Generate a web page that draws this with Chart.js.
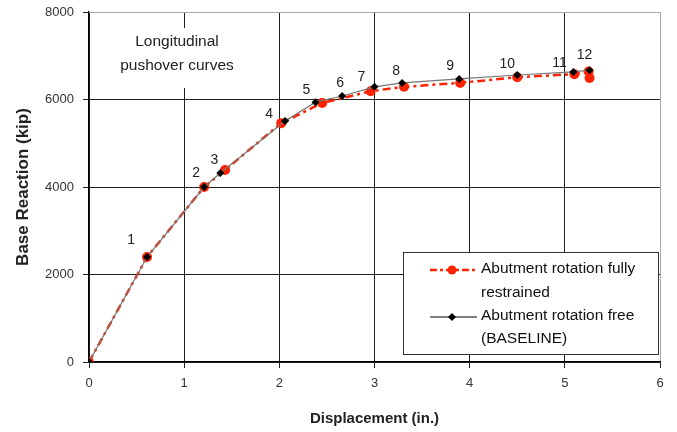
<!DOCTYPE html>
<html><head><meta charset="utf-8">
<script src="https://cdn.jsdelivr.net/npm/chart.js@4"></script>
<style>html,body{margin:0;padding:0;background:#fff}#wrap{width:677px;height:432px;position:relative}</style>
</head><body><div id="wrap"><canvas id="c" width="677" height="432"></canvas></div>
<script>
const baselineX = [0, 0.61, 1.21, 1.38, 2.06, 2.38, 2.66, 3.00, 3.29, 3.89, 4.50, 5.09, 5.26];
const baselineY = [0, 2400, 4000, 4320, 5510, 5940, 6080, 6290, 6380, 6470, 6560, 6630, 6670];
const restrainedX = [0, 0.61, 1.21, 1.43, 2.02, 2.45, 2.96, 3.31, 3.90, 4.50, 5.10, 5.25, 5.26];
const restrainedY = [0, 2400, 4000, 4390, 5460, 5920, 6190, 6290, 6380, 6510, 6580, 6640, 6490];
const pointLabels = ['', '1', '2', '3', '4', '5', '6', '7', '8', '9', '10', '11', '12'];
const xTicks = [0, 1, 2, 3, 4, 5, 6];
const yTicks = [0, 2000, 4000, 6000, 8000];
const legendLabels = [['Abutment rotation fully', 'restrained'], ['Abutment rotation free', '(BASELINE)']];
const noteLines = ['Longitudinal', 'pushover curves'];

const TFONT = "'Liberation Sans',Arial,sans-serif";
const RED = '#ff2200';
const labelOffsets = [[0,0],[-16,-17],[-8,-14],[-6,-13],[-16,-7],[-9,-12],[-2,-13],[-13,-10],[-6,-12],[-9,-13],[-10,-11],[-14,-9],[-5,-15]];

const overlay = {
  id: 'overlay',
  afterDatasetsDraw(chart) {
    const ctx = chart.ctx, xs = chart.scales.x, ys = chart.scales.y;
    ctx.save();
    // note box
    ctx.fillStyle = '#fff';
    ctx.fillRect(118, 28, 120, 60);
    ctx.fillStyle = '#222';
    ctx.font = '15.5px ' + TFONT;
    ctx.textAlign = 'center'; ctx.textBaseline = 'middle';
    ctx.fillText(noteLines[0], 177, 42);
    ctx.fillText(noteLines[1], 177, 66);
    // point labels
    ctx.font = '14px ' + TFONT;
    ctx.fillStyle = '#222';
    pointLabels.forEach((t, i) => {
      if (!t) return;
      const px = xs.getPixelForValue(baselineX[i]) + labelOffsets[i][0];
      const py = ys.getPixelForValue(baselineY[i]) + labelOffsets[i][1];
      ctx.fillText(t, px, py);
    });
    // legend
    const L = 403, T = 252, R = 658, B = 354;
    ctx.fillStyle = '#fff';
    ctx.fillRect(L, T, R - L, B - T);
    ctx.strokeStyle = '#333'; ctx.lineWidth = 1;
    ctx.strokeRect(L + 0.5, T + 0.5, R - L, B - T);
    // red sample
    ctx.strokeStyle = RED; ctx.lineWidth = 2.5; ctx.setLineDash([7, 3, 3, 3]);
    ctx.beginPath(); ctx.moveTo(430, 270); ctx.lineTo(477, 270); ctx.stroke();
    ctx.setLineDash([]);
    ctx.fillStyle = RED; ctx.beginPath(); ctx.arc(452, 270, 4.5, 0, Math.PI * 2); ctx.fill();
    // black sample
    ctx.strokeStyle = '#000'; ctx.lineWidth = 1;
    ctx.beginPath(); ctx.moveTo(430, 317); ctx.lineTo(477, 317); ctx.stroke();
    ctx.fillStyle = '#000'; ctx.beginPath();
    ctx.moveTo(452, 313); ctx.lineTo(456, 317); ctx.lineTo(452, 321); ctx.lineTo(448, 317); ctx.closePath(); ctx.fill();
    ctx.fillStyle = '#111'; ctx.font = '15.5px ' + TFONT; ctx.textAlign = 'left';
    ctx.fillText(legendLabels[0][0], 481, 269);
    ctx.fillText(legendLabels[0][1], 481, 293);
    ctx.fillText(legendLabels[1][0], 481, 316);
    ctx.fillText(legendLabels[1][1], 481, 339);
    ctx.restore();
  }
};

new Chart(document.getElementById('c'), {
  type: 'scatter',
  data: {
    datasets: [
      {
        label: 'Abutment rotation free (BASELINE)',
        data: baselineX.map((x, i) => ({ x, y: baselineY[i] })),
        showLine: true, borderColor: '#777', borderWidth: 1.2,
        pointStyle: 'rectRot', pointRadius: 4, pointBackgroundColor: '#000', pointBorderColor: '#000', pointBorderWidth: 0,
        order: 1
      },
      {
        label: 'Abutment rotation fully restrained',
        data: restrainedX.map((x, i) => ({ x, y: restrainedY[i] })),
        showLine: true, borderColor: RED, borderWidth: 2.5, borderDash: [8, 4, 3, 4],
        pointStyle: 'circle', pointRadius: 5, pointBackgroundColor: RED, pointBorderColor: RED, pointBorderWidth: 0,
        order: 2
      }
    ]
  },
  options: {
    responsive: false, animation: false, devicePixelRatio: 1,
    layout: { padding: { top: 12, right: 17, left: 0, bottom: 0 } },
    plugins: { legend: { display: false }, tooltip: { enabled: false } },
    scales: {
      x: {
        type: 'linear', min: 0, max: 6,
        afterBuildTicks: s => { s.ticks = xTicks.map(v => ({ value: v })); },
        afterFit: s => { s.height = 70; s.paddingLeft = 0; s.paddingRight = 0; },
        grid: { color: c => c.tick && c.tick.value === 6 ? '#aaa' : '#222', lineWidth: 1, tickLength: 6, drawTicks: true, tickColor: '#222' },
        border: { display: true, color: '#000', width: 1.2 },
        ticks: { color: '#333', font: { family: TFONT, size: 13 }, padding: 8, maxRotation: 0, callback: v => String(v) },
        title: { display: true, text: 'Displacement (in.)', color: '#222', font: { family: TFONT, size: 15, weight: 'bold' }, padding: { top: 12 } }
      },
      y: {
        type: 'linear', min: 0, max: 8000,
        afterBuildTicks: s => { s.ticks = yTicks.map(v => ({ value: v })); },
        afterFit: s => { s.width = 89; s.paddingTop = 0; s.paddingBottom = 0; },
        grid: { color: c => c.tick && c.tick.value === 8000 ? '#aaa' : '#222', lineWidth: 1, tickLength: 6, tickColor: '#222' },
        border: { display: true, color: '#000', width: 1.2 },
        ticks: { color: '#333', font: { family: TFONT, size: 13 }, padding: 9, callback: v => String(v) },
        title: { display: true, text: 'Base Reaction (kip)', color: '#222', font: { family: TFONT, size: 17, weight: 'bold' }, padding: { top: 13, bottom: 0 } }
      }
    }
  },
  plugins: [overlay]
});
</script></body></html>
